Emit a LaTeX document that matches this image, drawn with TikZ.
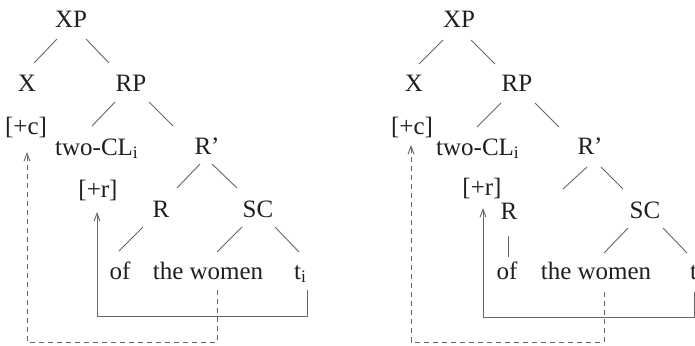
\documentclass[tikz,border=0pt]{standalone}
\usepackage{fontspec}
\setmainfont{Liberation Serif}
\usetikzlibrary{arrows.meta}
\begin{document}
\begin{tikzpicture}[x=1pt,y=-1pt,
  lbl/.style={inner sep=0pt,anchor=base,text=black!88,font=\fontsize{25}{30}\selectfont},
  edge/.style={draw=black!60,line width=0.9pt},
  move/.style={draw=black!60,line width=0.9pt,-{Straight Barb[length=8pt,width=6pt]}},
  trace/.style={move,dash pattern=on 5pt off 4pt}]
\useasboundingbox (0,0) rectangle (695,345);

% ---------- left tree ----------
\node[lbl] (lXP) at (71,28) {XP};
\node[lbl] (lX) at (27,91) {X};
\node[lbl] (lRP) at (131,91) {RP};
\node[lbl] (lplusc) at (26,134) {[+c]};
\node[lbl,anchor=base west] (ltwo) at (55,155) {two-CL\textsubscript{i}};
\node[lbl] (lRbar) at (207,154) {R’};
\node[lbl] (lplusr) at (98,197) {[+r]};
\node[lbl] (lR) at (161,217) {R};
\node[lbl] (lSC) at (258,217) {SC};
\node[lbl] (lof) at (120,279) {of};
\node[lbl] (lwomen) at (208,279) {the women};
\node[lbl,anchor=base west] (lt) at (294,279) {t\textsubscript{i}};

\draw[edge] ([shift={(-14,11)}]lXP.base) -- ([shift={(7,-28)}]lX.base);
\draw[edge] ([shift={(15,11)}]lXP.base) -- ([shift={(-22,-28)}]lRP.base);
\draw[edge] ([shift={(-16,11)}]lRP.base) -- ([shift={(37,-29)}]ltwo.base west);
\draw[edge] ([shift={(18,11)}]lRP.base) -- ([shift={(-34,-28)}]lRbar.base);
\draw[edge] ([shift={(-7,10)}]lRbar.base) -- ([shift={(16,-29)}]lR.base);
\draw[edge] ([shift={(5,10)}]lRbar.base) -- ([shift={(-21,-29)}]lSC.base);
\draw[edge] ([shift={(-18,10)}]lR.base) -- ([shift={(-1,-28)}]lof.base);
\draw[edge] ([shift={(-16,10)}]lSC.base) -- ([shift={(9,-27)}]lwomen.base);
\draw[edge] ([shift={(17,10)}]lSC.base) -- ([shift={(5,-27)}]lt.base west);

% movements
\draw[move] ([shift={(13,11)}]lt.base west) -- ++(0,26) -| ([shift={(-1,15)}]lplusr.base);
\draw[trace] ([shift={(9,11)}]lwomen.base) -- ++(0,52) -| ([shift={(1,18)}]lplusc.base);

% ---------- right tree ----------
\node[lbl] (rXP) at (459,28) {XP};
\node[lbl] (rX) at (414,91) {X};
\node[lbl] (rRP) at (517,91) {RP};
\node[lbl] (rplusc) at (412,134) {[+c]};
\node[lbl,anchor=base west] (rtwo) at (436,155) {two-CL\textsubscript{i}};
\node[lbl] (rRbar) at (590,154) {R’};
\node[lbl] (rplusr) at (482,195) {[+r]};
\node[lbl] (rR) at (509,219) {R};
\node[lbl] (rSC) at (645,218) {SC};
\node[lbl] (rof) at (507,279) {of};
\node[lbl] (rwomen) at (596,279) {the women};
\node[lbl,anchor=base west] (rt) at (690,279) {t\textsubscript{i}};
\coordinate (rgap) at (563,189);

\draw[edge] ([shift={(-16,12)}]rXP.base) -- ([shift={(5,-27)}]rX.base);
\draw[edge] ([shift={(12,12)}]rXP.base) -- ([shift={(-22,-27)}]rRP.base);
\draw[edge] ([shift={(-16,12)}]rRP.base) -- ([shift={(41,-28)}]rtwo.base west);
\draw[edge] ([shift={(18,12)}]rRP.base) -- ([shift={(-31,-27)}]rRbar.base);
\draw[edge] ([shift={(-3,13)}]rRbar.base) -- (rgap);
\draw[edge] ([shift={(11,13)}]rRbar.base) -- ([shift={(-22,-29)}]rSC.base);
\draw[edge] ([shift={(-1,17)}]rR.base) -- ([shift={(1,-22)}]rof.base);
\draw[edge] ([shift={(-17,10)}]rSC.base) -- ([shift={(8,-26)}]rwomen.base);
\draw[edge] ([shift={(18,10)}]rSC.base) -- ([shift={(-3,-26)}]rt.base west);

% movements
\draw[move] ([shift={(4,13)}]rt.base west) -- ++(0,25) -| ([shift={(1,13)}]rplusr.base);
\draw[trace] ([shift={(8,13)}]rwomen.base) -- ++(0,50) -| ([shift={(-1,11)}]rplusc.base);
\end{tikzpicture}
\end{document}
